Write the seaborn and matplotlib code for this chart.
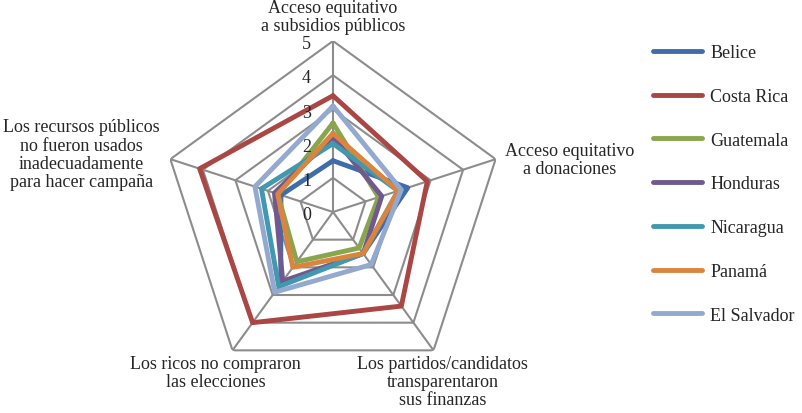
import numpy as np
import pandas as pd
import matplotlib
matplotlib.use("Agg")
import matplotlib.pyplot as plt
import seaborn as sns

categories = [
    "Acceso equitativo\na subsidios públicos",
    "Acceso equitativo\na donaciones",
    "Los partidos/candidatos\ntransparentaron\nsus finanzas",
    "Los ricos no compraron\nlas elecciones",
    "Los recursos públicos\nno fueron usados\ninadecuadamente\npara hacer campaña",
]
countries = ["Belice", "Costa Rica", "Guatemala", "Honduras", "Nicaragua", "Panamá", "El Salvador"]

belice = [1.5, 2.3, 1.5, 2.6, 1.6]
costa_rica = [3.4, 2.9, 3.4, 4.0, 4.1]
guatemala = [2.6, 1.4, 1.3, 1.8, 1.7]
honduras = [2.2, 1.5, 1.5, 2.5, 1.8]
nicaragua = [2.0, 2.0, 1.5, 2.7, 2.2]
panama = [2.3, 2.0, 1.5, 2.0, 1.7]
el_salvador = [3.1, 2.1, 1.9, 2.9, 2.4]
series = [belice, costa_rica, guatemala, honduras, nicaragua, panama, el_salvador]

colors = ["#3F6DAA", "#AA4643", "#89A54E", "#71588F", "#4198AF", "#DB843D", "#93A9CF"]
levels = [0, 1, 2, 3, 4, 5]

n = len(categories)
angles = np.linspace(0, 2 * np.pi, n, endpoint=False)

rows = []
for name, vals in zip(countries, series):
    for i in range(n + 1):
        rows.append({"pais": name, "theta": angles[i % n], "valor": vals[i % n], "orden": i})
df = pd.DataFrame(rows)

sns.set_style("white")
plt.rcParams["font.family"] = ["Liberation Serif", "DejaVu Serif"]

fig = plt.figure(figsize=(8.03, 4.14), dpi=100)
ax = fig.add_axes([162 / 803, 30 / 414, 342 / 803, 342 / 414], projection="polar")
ax.set_theta_offset(np.pi / 2)
ax.set_theta_direction(-1)
ax.set_ylim(0, 5)
ax.grid(False)
ax.spines["polar"].set_visible(False)
ax.set_xticks([])
ax.set_yticks([])
ax.patch.set_alpha(0)

# rejilla pentagonal y radios
closed = np.append(angles, angles[0])
for lv in levels[1:]:
    ax.plot(closed, [lv] * (n + 1), color="#8c8c8c", lw=1.5, zorder=1)
for a in angles:
    ax.plot([a, a], [0, 5], color="#8c8c8c", lw=1.5, zorder=1)

sns.lineplot(data=df, x="theta", y="valor", hue="pais", hue_order=countries,
             palette=colors, sort=False, estimator=None, units="pais",
             linewidth=3.5, ax=ax, legend=False, zorder=3)
ax.set_xlabel("")
ax.set_ylabel("")

for lv in levels:
    ax.annotate(str(lv), xy=(0, lv), xytext=(-19, -2), textcoords="offset points",
                ha="center", va="center", fontsize=13, zorder=5)

offsets = [(0, 5), (6.5, 0), (6.5, -3), (-12, -3), (-64, 3.5)]
aligns = [("center", "bottom"), ("left", "center"), ("center", "top"),
          ("center", "top"), ("center", "center")]
for a, lab, off, al in zip(angles, categories, offsets, aligns):
    ax.annotate(lab, xy=(a, 5), xytext=off, textcoords="offset points",
                ha=al[0], va=al[1], multialignment="center", fontsize=13,
                linespacing=1.1, zorder=5)

handles = [plt.Line2D([], [], color=c, lw=3.5, solid_capstyle="round") for c in colors]
fig.legend(handles, countries, loc="upper left", bbox_to_anchor=(637 / 803, 1 - 29 / 414),
           frameon=False, fontsize=13, handlelength=2.7, handletextpad=0.45,
           labelspacing=1.48)

fig.savefig("out.png", dpi=100)
